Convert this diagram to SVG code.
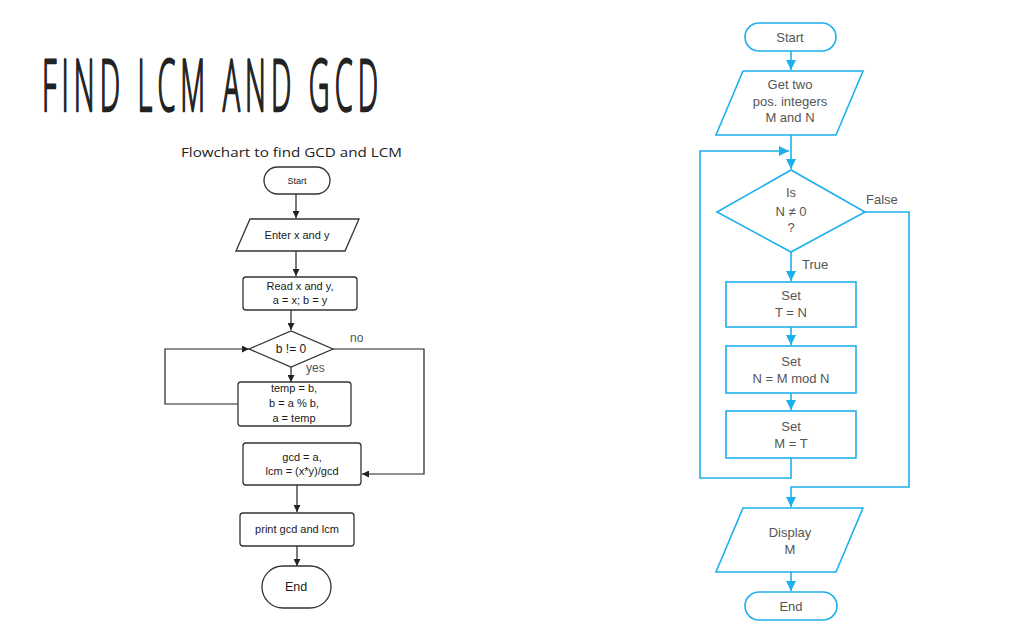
<svg xmlns="http://www.w3.org/2000/svg" width="1014" height="629" viewBox="0 0 1014 629">
<style>
.title{font-family:"Open Sans","Liberation Sans",sans-serif;font-weight:300;font-size:72px;fill:#222;stroke:#222;stroke-width:2.4;stroke-linejoin:round;}
.sub{font-family:"Open Sans","Liberation Sans",sans-serif;font-size:13.5px;fill:#222;}
.ln{fill:#fff;stroke:#333;stroke-width:1.3;}
.lt{font-family:"Liberation Sans",Arial,sans-serif;font-size:11px;fill:#1a1a1a;text-anchor:middle;}
.lc{fill:none;stroke:#222;stroke-width:1.2;}
.rn{fill:#fff;stroke:#1eb0ec;stroke-width:1.6;}
.rt{font-family:"Liberation Sans",Arial,sans-serif;font-size:13px;fill:#555;text-anchor:middle;}
.rc{fill:none;stroke:#1eb0ec;stroke-width:1.6;}
.lbl{font-family:"Liberation Sans",Arial,sans-serif;font-size:13px;fill:#555;}
</style>
<defs>
<marker id="ka" viewBox="0 0 10 10" refX="10" refY="5" markerWidth="7" markerHeight="7" orient="auto" markerUnits="userSpaceOnUse"><path d="M0,0 L10,5 L0,10 z" fill="#222"/></marker>
<marker id="ba" viewBox="0 0 10 10" refX="10" refY="5" markerWidth="10" markerHeight="10" orient="auto" markerUnits="userSpaceOnUse"><path d="M0,0 L10,5 L0,10 z" fill="#1eb0ec"/></marker>
</defs>
<rect width="1014" height="629" fill="#fff"/>
<text class="title" transform="translate(42,111) scale(0.4,1)" x="0" y="0" textLength="840" lengthAdjust="spacing">FIND LCM AND GCD</text>
<text class="sub" x="181" y="157" textLength="221" lengthAdjust="spacingAndGlyphs">Flowchart to find GCD and LCM</text>

<g id="left-connectors">
<path class="lc" d="M296,194 V218" marker-end="url(#ka)"/>
<path class="lc" d="M296,251 V276" marker-end="url(#ka)"/>
<path class="lc" d="M291,310 V330" marker-end="url(#ka)"/>
<path class="lc" d="M291,367 V382" marker-end="url(#ka)"/>
<path class="lc" d="M238,404 H165 V349 H249" marker-end="url(#ka)"/>
<path class="lc" d="M333,349 H424 V474 H362" marker-end="url(#ka)"/>
<path class="lc" d="M297,485 V512" marker-end="url(#ka)"/>
<path class="lc" d="M297,546 V566" marker-end="url(#ka)"/>
<text class="lbl" x="350" y="342" style="font-size:12px">no</text>
<text class="lbl" x="306" y="372" style="font-size:12px">yes</text>
</g>

<g id="l-start"><rect class="ln" x="264" y="167" width="66" height="27" rx="13.5"/><text class="lt" x="297" y="184" style="font-size:9px">Start</text></g>
<g id="l-input"><polygon class="ln" points="250,219 359,219 345,251 236,251"/><text class="lt" x="297" y="239">Enter x and y</text></g>
<g id="l-read"><rect class="ln" x="243" y="277" width="114" height="33" rx="3"/><text class="lt" x="300" y="290">Read x and y,</text><text class="lt" x="300" y="304">a = x; b = y</text></g>
<g id="l-cond"><polygon class="ln" points="249,349 291,331 333,349 291,367"/><text class="lt" x="291" y="353" style="font-size:12px">b != 0</text></g>
<g id="l-loop"><rect class="ln" x="238" y="382" width="113" height="44" rx="3"/><text class="lt" x="294" y="392">temp = b,</text><text class="lt" x="294" y="407">b = a % b,</text><text class="lt" x="294" y="422">a = temp</text></g>
<g id="l-calc"><rect class="ln" x="243" y="443" width="118" height="42" rx="3"/><text class="lt" x="302" y="461">gcd = a,</text><text class="lt" x="302" y="475">lcm = (x*y)/gcd</text></g>
<g id="l-print"><rect class="ln" x="240" y="513" width="114" height="33" rx="3"/><text class="lt" x="297" y="533">print gcd and lcm</text></g>
<g id="l-end"><rect class="ln" x="262" y="566" width="69" height="42" rx="21"/><text class="lt" x="296" y="591" style="font-size:12.5px">End</text></g>

<g id="right-connectors">
<path class="rc" d="M791,51 V70" marker-end="url(#ba)"/>
<path class="rc" d="M791,135 V169" marker-end="url(#ba)"/>
<path class="rc" d="M791,252 V281" marker-end="url(#ba)"/>
<path class="rc" d="M791,327 V345" marker-end="url(#ba)"/>
<path class="rc" d="M791,393 V410" marker-end="url(#ba)"/>
<path class="rc" d="M791,458 V478 H700 V151 H789" marker-end="url(#ba)"/>
<path class="rc" d="M865,212 H909 V487 H791 V507" marker-end="url(#ba)"/>
<path class="rc" d="M791,572 V591" marker-end="url(#ba)"/>
<text class="lbl" x="866" y="204">False</text>
<text class="lbl" x="802" y="269">True</text>
</g>

<g id="r-start"><rect class="rn" x="745" y="23" width="91" height="28" rx="14"/><text class="rt" x="790" y="42">Start</text></g>
<g id="r-input"><polygon class="rn" points="743,71 863,71 836,135 716,135"/><text class="rt" x="790" y="89">Get two</text><text class="rt" x="790" y="106">pos. integers</text><text class="rt" x="790" y="122">M and N</text></g>
<g id="r-cond"><polygon class="rn" points="717,212 791,170 865,212 791,252"/><text class="rt" x="791" y="197">Is</text><text class="rt" x="791" y="216">N ≠ 0</text><text class="rt" x="791" y="232">?</text></g>
<g id="r-set1"><rect class="rn" x="726" y="282" width="130" height="45"/><text class="rt" x="791" y="300">Set</text><text class="rt" x="791" y="317">T = N</text></g>
<g id="r-set2"><rect class="rn" x="726" y="346" width="130" height="47"/><text class="rt" x="791" y="366">Set</text><text class="rt" x="791" y="383">N = M mod N</text></g>
<g id="r-set3"><rect class="rn" x="726" y="411" width="130" height="47"/><text class="rt" x="791" y="431">Set</text><text class="rt" x="791" y="448">M = T</text></g>
<g id="r-display"><polygon class="rn" points="743,508 863,508 836,572 716,572"/><text class="rt" x="790" y="537">Display</text><text class="rt" x="790" y="554">M</text></g>
<g id="r-end"><rect class="rn" x="745" y="592" width="92" height="28" rx="14"/><text class="rt" x="791" y="611">End</text></g>
</svg>
